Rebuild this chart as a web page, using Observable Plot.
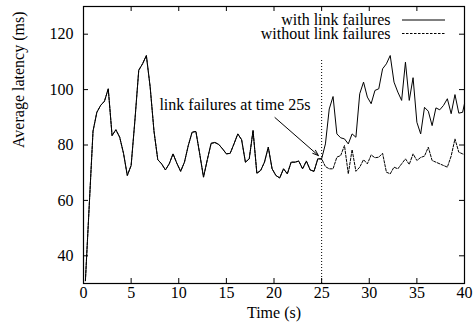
<!DOCTYPE html>
<html>
<head>
<meta charset="utf-8">
<script src="https://cdn.jsdelivr.net/npm/d3@7"></script>
<script src="https://cdn.jsdelivr.net/npm/@observablehq/plot@0.6"></script>
<style>
  html, body { margin: 0; padding: 0; background: #fff; }
  #chart { width: 474px; height: 335px; }
  #chart svg, #chart svg text, #chart svg g {
    font-family: "Liberation Serif", "Times New Roman", Times, "DejaVu Serif", serif !important;
    font-size: 16px !important;
  }
</style>
</head>
<body>
<div id="chart"></div>
<script>
// ---- data ----
const xTicks = [0, 5, 10, 15, 20, 25, 30, 35, 40];
const yTicks = [40, 60, 80, 100, 120];
const seriesNames = ["with link failures", "without link failures"];

// shared part (both runs coincide before the failures)
const timeBefore = [0.2, 1.0, 1.4, 1.8, 2.2, 2.6, 3.0, 3.4, 3.8, 4.2, 4.6, 5.0, 5.4, 5.8, 6.2, 6.6, 7.0, 7.4, 7.8,
  8.2, 8.6, 9.0, 9.4, 9.8, 10.2, 10.6, 11.0, 11.4, 11.8, 12.2, 12.6, 13.0, 13.4, 13.8, 14.2, 14.6, 15.0, 15.4,
  15.8, 16.2, 16.6, 17.0, 17.4, 17.8, 18.2, 18.6, 19.0, 19.4, 19.8, 20.2, 20.6, 21.0, 21.4, 21.8, 22.2, 22.6,
  23.0, 23.4, 23.8, 24.2, 24.6, 25.0];
const latencyBefore = [31, 85, 91.8, 94.3, 95.8, 100.3, 83.4, 85.5, 82.8, 77, 69, 72.6, 89, 107, 109.3, 112.3, 100.9, 85, 74.7,
  73.2, 71, 73.2, 76.8, 73.4, 70.5, 73.8, 79.8, 84.6, 84.9, 76.8, 68.4, 74.7, 80.6, 80.9, 80.2, 78.6, 76.8, 77,
  80.4, 84, 81.9, 73.8, 75, 85.2, 69.8, 70.8, 73.8, 79.2, 71.4, 69, 68.1, 71.4, 69.6, 73.8, 73.8, 74.2,
  71.4, 74.2, 71, 70.5, 75, 75];

const timeAfter = [25.4, 25.8, 26.2, 26.6, 27.0, 27.4, 27.8, 28.2, 28.6, 29.0, 29.4, 29.8, 30.2, 30.6, 31.0, 31.4,
  31.8, 32.2, 32.6, 33.0, 33.4, 33.8, 34.2, 34.6, 35.0, 35.4, 35.8, 36.2, 36.6, 37.0, 37.4, 37.8, 38.2, 38.6,
  39.0, 39.4, 39.8, 40.0];
const latencyWithAfter = [80.4, 93, 97.5, 84, 82.6, 82.2, 80.4, 84, 82.8, 98.5, 102.7, 97.3, 94.9, 99.7, 100.3, 107.5,
  109.3, 112.3, 102.7, 99.1, 96.1, 109.9, 96.1, 104.3, 88.2, 84, 93.6, 92.2, 87, 93.4, 92.7, 94.3, 96.7, 91.3,
  98.2, 91.5, 91.8, 94.9];
const latencyWithoutAfter = [72.2, 71.4, 71.4, 75.6, 76.2, 79.8, 69.6, 78.3, 70.5, 72, 74.7, 73.2, 76.4, 75.4, 75.6, 77,
  70.2, 69.6, 72, 71.4, 73.2, 75, 73, 76.8, 74.4, 75.5, 76, 79.2, 74.4, 73.8, 73.2, 72.6, 72, 76,
  82.2, 77.4, 76.8, 76.5];

const failureTime = 25;
const failureMarkTop = 111;
const annotationText = "link failures at time 25s";
const annotationPos = {x: 15.9, y: 94.6};
const arrowFrom = {x: 20.1, y: 89.9};
const arrowTo = {x: 24.66, y: 76.2};

// ---- build tables ----
const before = timeBefore.map((t, i) => ({t, v: latencyBefore[i]}));
const withData = before.concat(timeAfter.map((t, i) => ({t, v: latencyWithAfter[i]})));
const withoutData = before.concat(timeAfter.map((t, i) => ({t, v: latencyWithoutAfter[i]})));

const FONT = "Liberation Serif";
const W = 474, H = 335, mL = 83, mR = 10, mT = 6, mB = 52;
const innerW = W - mL - mR, innerH = H - mT - mB, tick = 5;

const chart = Plot.plot({
  width: W, height: H,
  marginLeft: mL, marginRight: mR, marginTop: mT, marginBottom: mB,
  style: {fontFamily: FONT, fontSize: "16px", background: "#fff", color: "#000"},
  x: {domain: [0, 40], ticks: xTicks, tickSize: 0, tickPadding: 3, label: null},
  y: {domain: [30, 130], ticks: yTicks, tickSize: 0, tickPadding: 10, label: null},
  marks: [
    Plot.axisX({ticks: xTicks, tickSize: 0, tickPadding: 3, label: null, fontFamily: FONT, fontSize: 16}),
    Plot.axisY({ticks: yTicks, tickSize: 0, tickPadding: 10, label: null, fontFamily: FONT, fontSize: 16}),
    // inward ticks on all four sides
    Plot.ruleX(xTicks, {x: d => d, insetTop: innerH - tick, stroke: "#000"}),
    Plot.ruleX(xTicks, {x: d => d, insetBottom: innerH - tick, stroke: "#000"}),
    Plot.ruleY(yTicks, {y: d => d, insetRight: innerW - tick, stroke: "#000"}),
    Plot.ruleY(yTicks, {y: d => d, insetLeft: innerW - tick, stroke: "#000"}),
    // failure time marker
    Plot.ruleX([failureTime], {x: d => d, y1: 30, y2: failureMarkTop, stroke: "#000", strokeDasharray: "1,2"}),
    // series
    Plot.line(withoutData, {x: "t", y: "v", stroke: "#000", strokeWidth: 1, strokeDasharray: "2.5,1.5"}),
    Plot.line(withData, {x: "t", y: "v", stroke: "#000", strokeWidth: 1}),
    // annotation
    Plot.text([annotationText], {x: annotationPos.x, y: annotationPos.y, text: d => d, fill: "#000", fontFamily: FONT, fontSize: 16}),
    Plot.arrow([0], {x1: arrowFrom.x, y1: arrowFrom.y, x2: arrowTo.x, y2: arrowTo.y, stroke: "#000", strokeWidth: 1, headLength: 9, headAngle: 40}),
    // axis titles
    Plot.text(["Time (s)"], {frameAnchor: "bottom", dy: 34, text: d => d, fill: "#000", fontFamily: FONT, fontSize: 16}),
    Plot.text(["Average latency (ms)"], {frameAnchor: "left", dx: -65, dy: 3, rotate: -90, text: d => d, fill: "#000", fontFamily: FONT, fontSize: 16}),
    Plot.frame({stroke: "#000", strokeWidth: 1.2})
  ]
});

// legend (inside top-right)
const svg = d3.select(chart);
const legendRows = [
  {name: seriesNames[0], y: 20, dash: null},
  {name: seriesNames[1], y: 33.5, dash: "2.5,1.5"}
];
const lg = svg.append("g").attr("fill", "#000").attr("font-family", FONT).attr("font-size", 16);
legendRows.forEach(r => {
  lg.append("text").attr("x", 390.5).attr("y", r.y).attr("dy", "0.32em")
    .attr("text-anchor", "end").text(r.name);
  lg.append("line").attr("x1", 402).attr("x2", 445).attr("y1", r.y).attr("y2", r.y)
    .attr("stroke", "#000").attr("stroke-width", 1).attr("stroke-dasharray", r.dash);
});

document.getElementById("chart").appendChild(chart);
</script>
</body>
</html>
